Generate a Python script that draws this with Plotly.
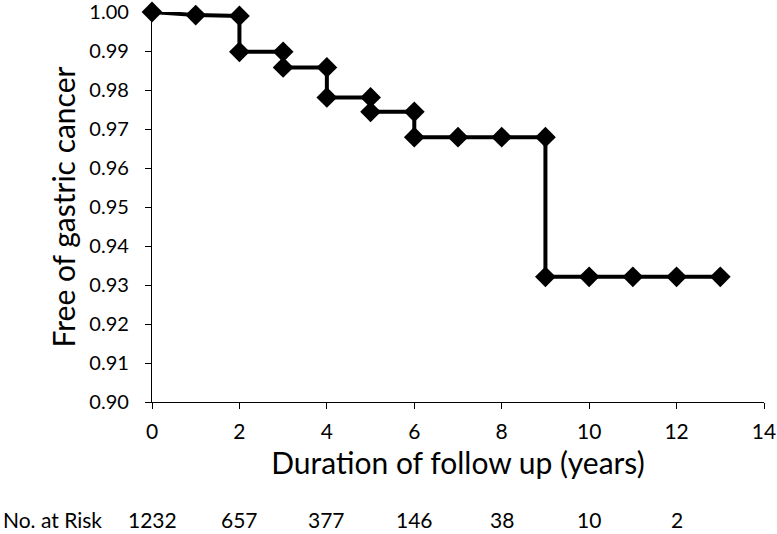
import plotly.graph_objects as go

# Step-curve vertices (years, survival proportion)
years = [0, 1, 2, 2, 3, 3, 4, 4, 5, 5, 6, 6, 7, 8, 9, 9, 10, 11, 12, 13]
free = [1.000, 0.9992, 0.9990, 0.9898, 0.9898, 0.9858, 0.9858, 0.9781, 0.9781, 0.9744,
        0.9744, 0.9679, 0.9679, 0.9679, 0.9679, 0.9321, 0.9321, 0.9321, 0.9321, 0.9321]

y_ticks = [0.90, 0.91, 0.92, 0.93, 0.94, 0.95, 0.96, 0.97, 0.98, 0.99, 1.00]
x_ticks = [0, 2, 4, 6, 8, 10, 12, 14]

risk_years = [0, 2, 4, 6, 8, 10, 12]
risk_counts = ["1232", "657", "377", "146", "38", "10", "2"]

FONT = "Lato, Calibri, sans-serif"

fig = go.Figure()
fig.add_trace(go.Scatter(
    x=years, y=free, mode="lines+markers",
    line=dict(color="black", width=4),
    marker=dict(symbol="diamond", size=16, color="black"),
    showlegend=False, cliponaxis=False,
))

annotations = [dict(text="No. at Risk", x=-0.247, y=-0.302, xref="paper", yref="paper",
                    xanchor="left", yanchor="middle", showarrow=False,
                    font=dict(family=FONT, size=21, color="black"))]
for yr, c in zip(risk_years, risk_counts):
    annotations.append(dict(text=c, x=yr, y=-0.302, xref="x", yref="paper",
                            xanchor="center", yanchor="middle", showarrow=False,
                            font=dict(family=FONT, size=21, color="black")))

fig.update_layout(
    width=777, height=534,
    margin=dict(l=152, r=13, t=12, b=132),
    paper_bgcolor="white", plot_bgcolor="white",
    font=dict(family=FONT, color="black"),
    xaxis=dict(range=[0, 14], tickvals=x_ticks, showgrid=False, zeroline=False,
               showline=True, linecolor="black", linewidth=1.3,
               ticks="outside", ticklen=6, tickcolor="black", ticklabelstandoff=5,
               tickfont=dict(size=21), automargin=False, ticklabeloverflow="allow",
               title=dict(text="Duration of follow up (years)", font=dict(size=30), standoff=10)),
    yaxis=dict(range=[0.90, 1.00], tickvals=y_ticks, tickformat=".2f",
               showgrid=False, zeroline=False,
               showline=True, linecolor="black", linewidth=1.3,
               ticks="outside", ticklen=6, tickcolor="black", ticklabelstandoff=12,
               tickfont=dict(size=20), automargin=False, ticklabeloverflow="allow",
               title=dict(text="Free of gastric cancer", font=dict(size=30), standoff=4)),
    annotations=annotations,
)

fig.write_html("out.html", config={"displayModeBar": False},
               post_script="document.body.style.margin='0';document.body.style.padding='0';")
